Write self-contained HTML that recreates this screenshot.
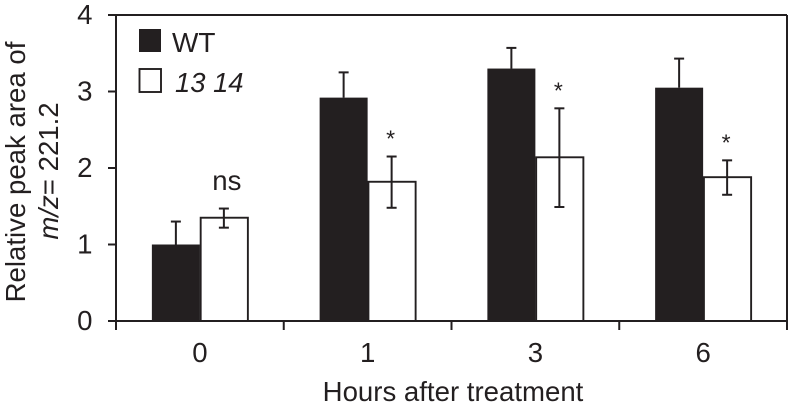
<!DOCTYPE html>
<html lang="en">
<head>
<meta charset="utf-8">
<title>Relative peak area chart</title>
<style>
html,body{margin:0;padding:0;background:#fff;}
svg{display:block;}
text{font-family:"Liberation Sans",Arial,sans-serif;fill:#231f20;}
</style>
</head>
<body>
<svg id="chart" width="788" height="407" viewBox="0 0 788 407" xmlns="http://www.w3.org/2000/svg">
  <rect x="0" y="0" width="788" height="407" fill="#fff"/>
  <g id="marks"></g>
  <g id="axes"></g>
  <text transform="translate(25,172) rotate(-90)" text-anchor="middle" font-size="27.6">Relative peak area of</text>
  <text transform="translate(58,171) rotate(-90)" text-anchor="middle" font-size="27.6"><tspan font-style="italic">m/z</tspan>= 221.2</text>
  <text x="453" y="401" text-anchor="middle" font-size="27.6">Hours after treatment</text>
  <rect x="139" y="29" width="22" height="23" fill="#231f20"/>
  <text x="172" y="52" font-size="28">WT</text>
  <rect x="139.5" y="69" width="21.5" height="23" fill="#fff" stroke="#231f20" stroke-width="1.9"/>
  <text x="175" y="92" font-size="27.4" font-style="italic">13 14</text>
</svg>
<script>
const categories = ['0', '1', '3', '6'];
const wtValues = [1.0, 2.92, 3.30, 3.05];
const wtErrorTop = [1.30, 3.25, 3.57, 3.43];
const mutantValues = [1.35, 1.82, 2.14, 1.88];
const mutantErrorTop = [1.47, 2.15, 2.78, 2.10];
const mutantErrorBottom = [1.22, 1.48, 1.49, 1.65];
const significance = ['ns', '*', '*', '*'];
const yTicks = [0, 1, 2, 3, 4];

const INK = '#231f20';
const NS = 'http://www.w3.org/2000/svg';
const marks = document.getElementById('marks');
const axes = document.getElementById('axes');

const plotLeft = 116, plotRight = 787, plotTop = 15, plotBottom = 321;
const groupWidth = (plotRight - plotLeft) / categories.length;
const barWidth = 48;
const lineWidth = 2;
const yScale = v => plotBottom - (v / 4) * (plotBottom - plotTop);
const xCenter = i => plotLeft + groupWidth * (i + 0.5);

function make(parent, tag, attrs) {
  const el = document.createElementNS(NS, tag);
  for (const k in attrs) el.setAttribute(k, attrs[k]);
  parent.appendChild(el);
  return el;
}
function segment(parent, x1, y1, x2, y2, width) {
  return make(parent, 'line', { x1: x1, y1: y1, x2: x2, y2: y2, stroke: INK, 'stroke-width': width });
}

categories.forEach((cat, i) => {
  const cx = xCenter(i);

  const wtErr = segment(marks, cx - barWidth / 2, yScale(wtValues[i]), cx - barWidth / 2, yScale(wtErrorTop[i]), lineWidth);
  
  
  const wtCap = segment(marks, cx - barWidth / 2 - 5, yScale(wtErrorTop[i]), cx - barWidth / 2 + 5, yScale(wtErrorTop[i]), lineWidth);
  
  

  const wtBar = make(marks, 'rect', { x: cx - barWidth, y: yScale(wtValues[i]), width: barWidth, height: plotBottom - yScale(wtValues[i]), fill: INK });
  
  

  const mutBar = make(marks, 'rect', { x: cx + 0.8, y: yScale(mutantValues[i]), width: barWidth - 0.8, height: plotBottom - yScale(mutantValues[i]), fill: '#fff', stroke: INK, 'stroke-width': 1.9 });
  
  

  const mx = cx + barWidth / 2;
  const mutErr = segment(marks, mx, yScale(mutantErrorTop[i]), mx, yScale(mutantErrorBottom[i]), lineWidth);
  
  
  const capTop = segment(marks, mx - 5, yScale(mutantErrorTop[i]), mx + 5, yScale(mutantErrorTop[i]), lineWidth);
  
  
  const capBottom = segment(marks, mx - 5, yScale(mutantErrorBottom[i]), mx + 5, yScale(mutantErrorBottom[i]), lineWidth);
  
  

  const isNs = significance[i] === 'ns';
  const sig = make(marks, 'text', { x: mx + (isNs ? 3 : -1), y: yScale(mutantErrorTop[i]) - (isNs ? 18.5 : 10), 'text-anchor': 'middle', 'font-size': isNs ? 27.6 : 23 });
  sig.textContent = significance[i];
  
  

  const label = make(axes, 'text', { x: cx, y: 362, 'text-anchor': 'middle', 'font-size': 27.6 });
  label.textContent = cat;
  
  
});

for (let i = 0; i <= categories.length; i++) {
  const x = plotLeft + groupWidth * i;
  const tick = segment(axes, x, plotBottom, x, plotBottom + 9, lineWidth);
  
  
}

yTicks.forEach(v => {
  const y = yScale(v);
  const tick = segment(axes, plotLeft - 8, y, plotLeft, y, lineWidth);
  
  
  const label = make(axes, 'text', { x: 92.5, y: y + 9, 'text-anchor': 'end', 'font-size': 27.6 });
  label.textContent = v;
  
  
});

const yAxis = segment(axes, plotLeft, plotTop, plotLeft, plotBottom, lineWidth);


const xAxis = segment(axes, plotLeft, plotBottom, plotRight, plotBottom, lineWidth);


const topBorder = segment(axes, plotLeft, plotTop, plotRight, plotTop, lineWidth);


const rightBorder = segment(axes, plotRight, plotTop, plotRight, plotBottom, lineWidth);


</script>
</body>
</html>
